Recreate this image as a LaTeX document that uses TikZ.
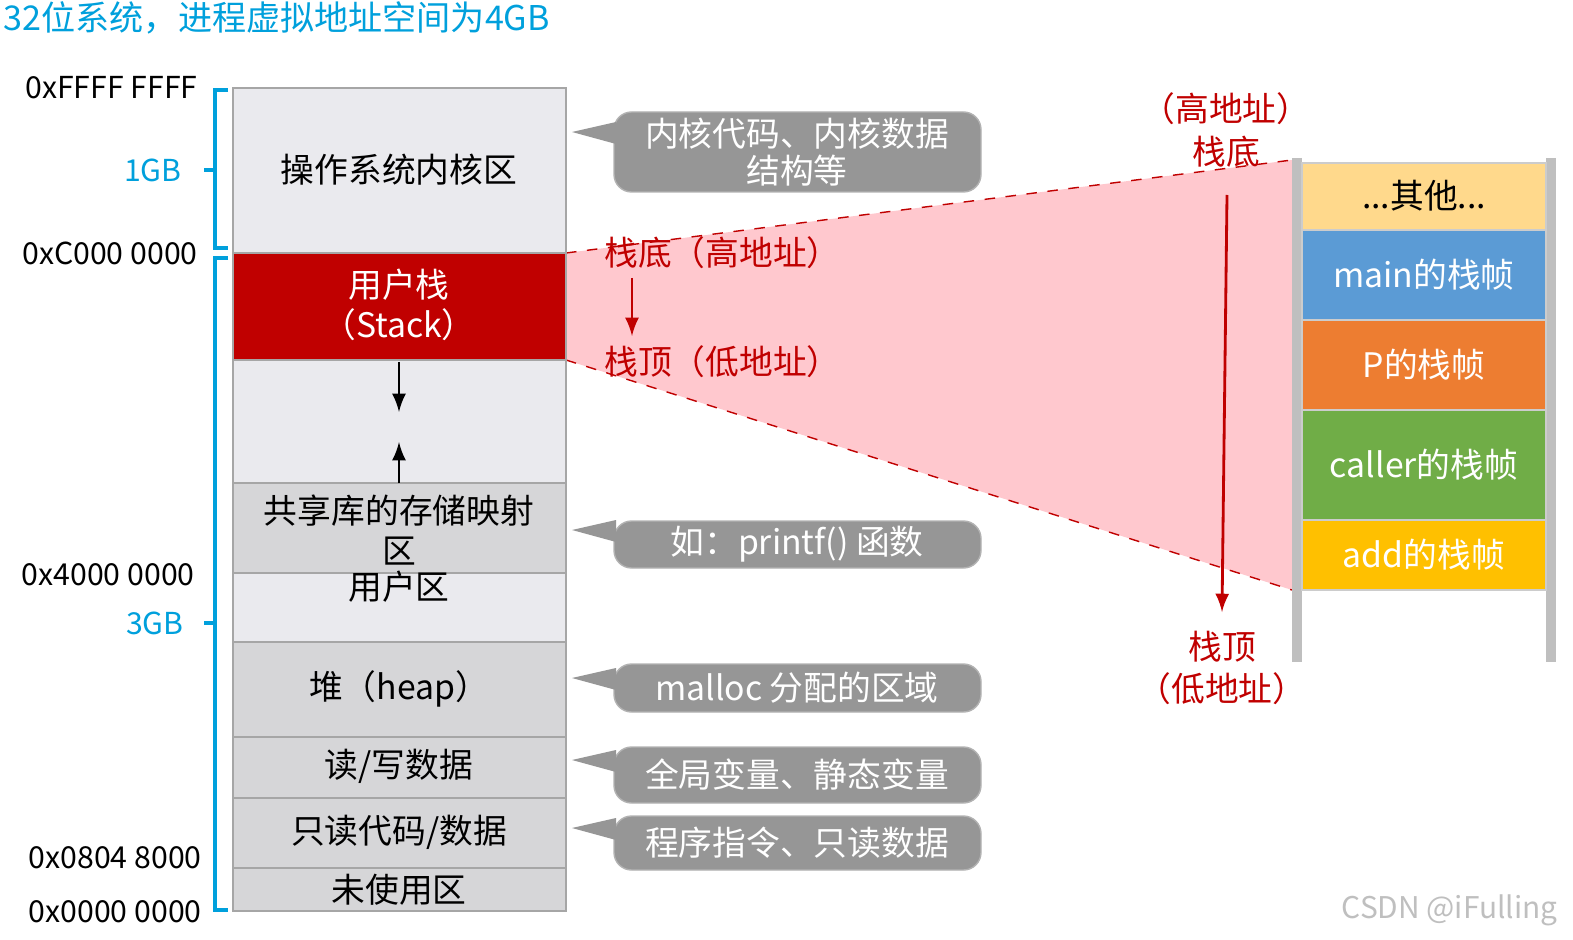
\documentclass[tikz,border=0pt]{standalone}
\usepackage{fontspec}
\setmainfont{Noto Sans CJK SC}
\definecolor{titleblue}{RGB}{0,160,220}
\definecolor{lightreg}{RGB}{234,234,238}
\definecolor{grayreg}{RGB}{214,214,216}
\definecolor{stackred}{RGB}{192,0,0}
\definecolor{callgray}{RGB}{150,150,150}
\definecolor{pinkfill}{RGB}{255,200,206}
\definecolor{otherfr}{RGB}{255,217,140}
\definecolor{mainfr}{RGB}{91,155,213}
\definecolor{pfr}{RGB}{237,125,49}
\definecolor{callerfr}{RGB}{112,173,71}
\definecolor{addfr}{RGB}{255,192,0}
\begin{document}
\begin{tikzpicture}[x=0.01cm,y=-0.01cm,
    region/.style={draw=gray!70, fill=#1},
    regtext/.style={font=\fontsize{9.6}{11.5}\selectfont},
    addr/.style={anchor=east, font=\fontsize{8.6}{10}\selectfont},
    sizelbl/.style={anchor=east, text=titleblue, font=\fontsize{8.6}{10}\selectfont},
    callout/.style={fill=callgray, draw=gray!60, rounded corners=5pt},
    calltext/.style={text=white, font=\fontsize{9.6}{10.5}\selectfont, align=center},
    redtext/.style={text=stackred, font=\fontsize{9.6}{12}\selectfont, align=center},
    frame/.style={fill=#1, draw=gray!40},
    frametext/.style={text=white, font=\fontsize{9.6}{12}\selectfont}]
    \useasboundingbox (0,0) rectangle (1573,940);

    % Titel
    \node[anchor=west, text=titleblue, font=\fontsize{9.7}{12}\selectfont, inner sep=0pt] (title) at (3,18) {32位系统，进程虚拟地址空间为4GB};

    % Rosa Trapez
    \fill[pinkfill] (566,253) -- (1292,160) -- (1292,590) -- (566,360) -- cycle;
    \draw[stackred, dashed] (566,253) -- (1292,160);
    \draw[stackred, dashed] (566,360) -- (1292,590);

    % Bereiche
    \draw[region=lightreg] (233,88) rectangle (566,253);
    \draw[region=stackred] (233,253) rectangle (566,360);
    \draw[region=lightreg] (233,360) rectangle (566,483);
    \draw[region=lightreg] (233,573) rectangle (566,642);
    \draw[region=grayreg] (233,483) rectangle (566,573);
    \draw[region=grayreg] (233,642) rectangle (566,737);
    \draw[region=grayreg] (233,737) rectangle (566,798);
    \draw[region=grayreg] (233,798) rectangle (566,868);
    \draw[region=grayreg] (233,868) rectangle (566,911);
    \node[regtext] (kernel) at (399,170) {操作系统内核区};
    \node[regtext, text=white, align=center] (ustack) at (399,305) {用户栈\\（Stack）};
    \node[regtext] (user) at (399,587) {用户区};
    \node[regtext, align=center, fill=grayreg, inner sep=0pt] (shlib) at (399,530) {共享库的存储映射\\区};
    \node[regtext] (heap) at (399,689) {堆（heap）};
    \node[regtext] (rwdata) at (399,766) {读/写数据};
    \node[regtext] (rodata) at (399,832) {只读代码/数据};
    \node[regtext] (unused) at (399,890) {未使用区};
    \draw[-latex, thick] (399,362) -- (399,412);
    \draw[-latex, thick] (399,483) -- (399,442);

    % Adressen
    \node[addr] (a1) at (210,88) {0xFFFF FFFF};
    \node[addr] (a2) at (210,253) {0xC000 0000};
    \node[addr] (a3) at (207,575) {0x4000 0000};
    \node[addr] (a4) at (214,858) {0x0804 8000};
    \node[addr] (a5) at (214,912) {0x0000 0000};
    \node[sizelbl] (g1) at (194,170) {1GB};
    \node[sizelbl] (g3) at (196,623) {3GB};
    \draw[titleblue, very thick] (228,90) -- (215,90) -- (215,248) -- (228,248);
    \draw[titleblue, very thick] (215,170) -- (204,170);
    \draw[titleblue, very thick] (228,258) -- (215,258) -- (215,910) -- (228,910);
    \draw[titleblue, very thick] (215,623) -- (204,623);

    % Sprechblasen
    \foreach \ya/\yb/\yp/\txt in {112/192/132/{内核代码、内核数据\\结构等}, 521/568/530/{如：printf() 函数}, 664/712/678/{malloc 分配的区域}, 747/803/760/{全局变量、静态变量}, 816/870/828/{程序指令、只读数据}}{
        \draw[callout] (614,\ya) rectangle (981,\yb);
        \fill[callgray] (572,\yp) -- (616,\yp-10) -- (616,\yp+12) -- cycle;
        \node[calltext] at (797,{(\ya+\yb)/2}) {\txt};
    }

    % Rote Beschriftung
    \node[redtext, anchor=west] (bot1) at (592,253) {栈底（高地址）};
    \node[redtext, anchor=west] (top1) at (592,362) {栈顶（低地址）};
    \draw[stackred, thick, -latex] (632,278) -- (632,336);
    \node[redtext] (bot2) at (1226,130) {（高地址）\\栈底};
    \node[redtext] (top2) at (1222,668) {栈顶\\（低地址）};
    \draw[stackred, thick, -latex] (1227,195) -- (1222,612);

    % Stapelrahmen
    \draw[gray!50, line width=3pt] (1297,158) -- (1297,662);
    \draw[gray!50, line width=3pt] (1551,158) -- (1551,662);
    \draw[frame=otherfr] (1302,163) rectangle (1546,230);
    \draw[frame=mainfr] (1302,230) rectangle (1546,320);
    \draw[frame=pfr] (1302,320) rectangle (1546,410);
    \draw[frame=callerfr] (1302,410) rectangle (1546,520);
    \draw[frame=addfr] (1302,520) rectangle (1546,590);
    \node[regtext] (other) at (1424,196) {...其他...};
    \node[frametext] (fmain) at (1424,275) {main的栈帧};
    \node[frametext] (fp) at (1424,365) {P的栈帧};
    \node[frametext] (fcaller) at (1424,465) {caller的栈帧};
    \node[frametext] (fadd) at (1424,555) {add的栈帧};

    % Wasserzeichen
    \node[text=gray!50, font=\fontsize{8.5}{10}\selectfont, anchor=east] (wm) at (1570,910) {CSDN @iFulling};
\end{tikzpicture}
\end{document}
